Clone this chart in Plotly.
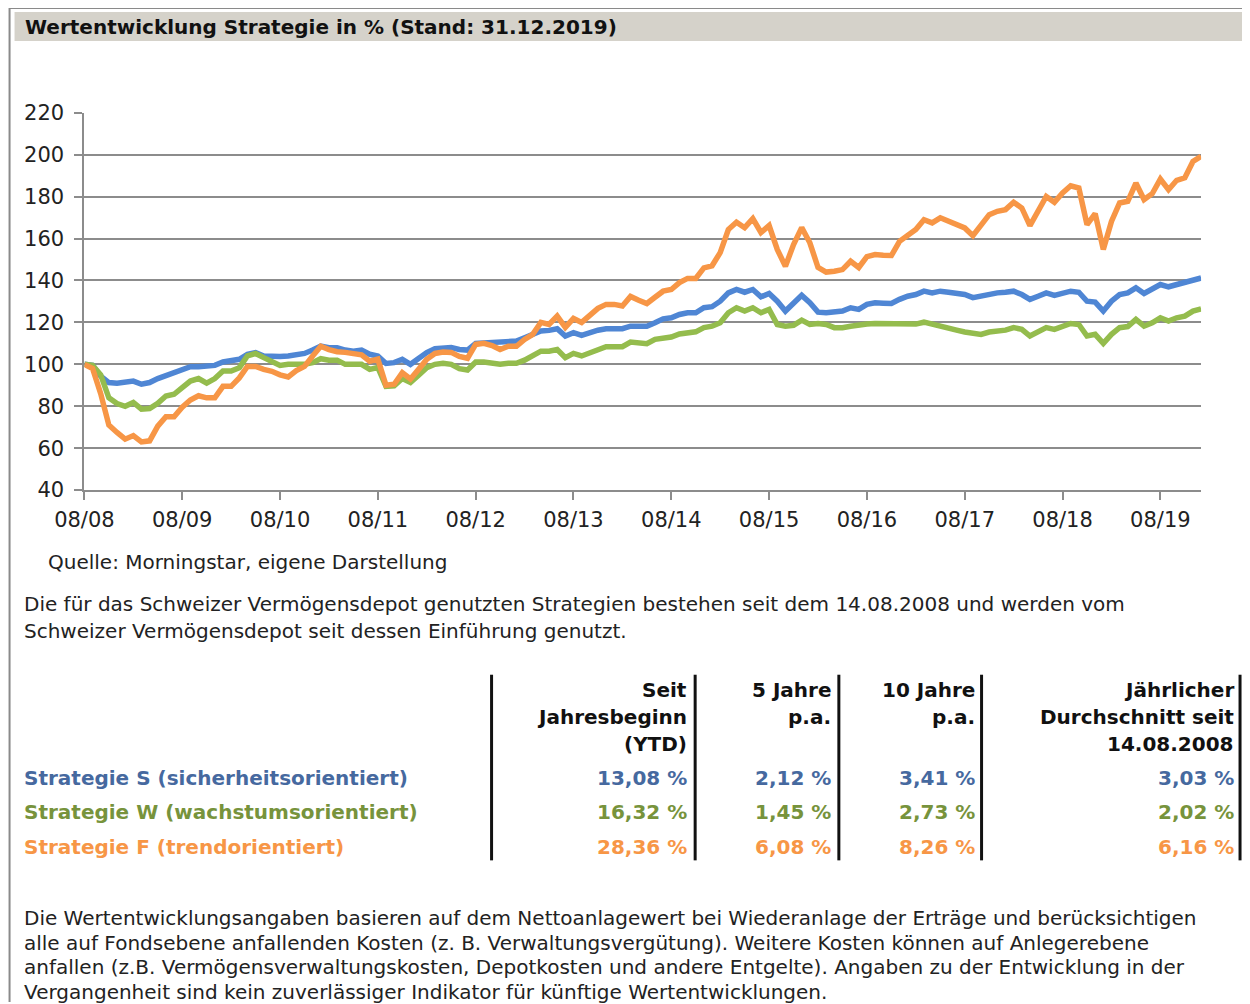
import plotly.graph_objects as go
import pandas as pd

W, H = 1250, 1004

# ---------------- data ----------------
dates = ["2008-08-14"] + [d.strftime("%Y-%m-%d") for d in
                          pd.date_range("2008-08-31", periods=137, freq=pd.offsets.MonthEnd())]
tick_labels = ["08/08", "08/09", "08/10", "08/11", "08/12", "08/13",
               "08/14", "08/15", "08/16", "08/17", "08/18", "08/19"]
y_ticks = [40, 60, 80, 100, 120, 140, 160, 180, 200, 220]

strategie_s = [
    100, 99.5, 94.4, 91.3, 91, 91.3, 92, 90.5, 91.3, 93.2, 94.8, 96,
    97.6, 98.9, 98.9, 99.2, 99.5, 101.1, 101.6, 102.4, 104.8, 105.6, 104, 103.7,
    103.7, 104, 104.8, 105.2, 106.8, 108.7, 107.9, 107.9, 106.8, 106.3, 106.8, 104.8,
    104, 100.4, 100.8, 102.4, 100, 102.7, 105.6, 107.5, 108, 108, 107.1, 106.8,
    110, 110.3, 110.3, 110.6, 111.1, 111.1, 112.7, 114.3, 115.9, 116.2, 117, 113.5,
    115.1, 113.8, 115.4, 116.3, 117, 117, 117, 118.2, 117.9, 118.2, 119.8, 121.7,
    122.2, 123.8, 124.6, 124.6, 127, 127.5, 130.1, 134.1, 135.7, 134.4, 135.7, 132.2,
    133.8, 130.1, 125.4, 129.4, 132.9, 129.4, 124.9, 124.6, 124.9, 125.4, 127, 126.2,
    128.6, 129.4, 129.2, 129, 131, 132.5, 133.3,
    134.9, 134.1, 134.9, 134.4, 134.1, 133.3, 131.8, 132.5, 133.8, 134.1, 134.4, 134.9,
    133.3, 131, 132.5, 134.1, 132.9, 134.1, 134.9, 134.4, 130.1, 129.7, 125.4, 130.1,
    133.3, 134.1, 136.5, 133.8, 135.7, 138.1, 137, 138.1, 138.6, 140.1, 141.2]

strategie_w = [
    100, 99.5, 95, 84, 81.3, 80, 81.8, 78.6, 78.9, 81.4, 84.9, 85.7,
    88.9, 92, 93.2, 91, 93.2, 96.8, 96.8, 98.4, 104, 105.2, 103.2, 101.6,
    99.5, 100, 100, 100, 100.8, 102.7, 102, 102, 100, 100, 100, 97.6,
    98.5, 89.5, 89.7, 93.2, 91.3, 94.8, 98.4, 100, 100.5, 100, 97.9, 97.3,
    101.1, 101.1, 100.8, 100, 100.5, 100.5, 102, 104.3, 106.3, 106.3, 107.1, 103.2,
    105.2, 104, 105.6, 107.1, 108.4, 108.4, 108.4, 110.6, 110, 109.8, 111.9, 112.5,
    113, 114.5, 115.1, 115.5, 117.5, 118.2, 119.8, 124.6, 127, 125.4, 127, 124.6,
    126.2, 119, 118.2, 118.6, 121.1, 119, 119.5, 119, 117.5, 117.5, 118.2, 119,
    119.2, 119.5, 119.5, 119.3, 119, 119, 119.2,
    120.1, 119, 118.2, 117, 116.3, 115.4, 114.8, 114.3, 115.4, 115.9, 116.3, 117.5,
    116.7, 113.5, 115.4, 117.5, 116.7, 118, 119.5, 119, 113.5, 114.3, 110, 114.3,
    117.5, 118, 121.4, 118.2, 119.8, 122.2, 120.6, 122.2, 123, 125.4, 126.5]

strategie_f = [
    100, 98, 86, 71, 67.5, 64.3, 66, 63, 63.5, 70.5, 75, 75,
    79.5, 83, 85, 84, 84, 89.5, 89.5, 93.5, 99, 99, 97.6, 96.7,
    95, 94, 97, 99, 104, 108.6, 107, 106, 105.7, 104.8, 104.5, 101.5,
    102.5, 90, 90.5, 96, 93, 97.6, 102.4, 105.2, 105.9, 105.7, 103.8, 102.9,
    109.5, 110, 109, 107.1, 108.6, 108.6, 111.9, 114.3, 120, 119, 123, 117.6,
    121.9, 120, 123.8, 126.7, 128.6, 128.6, 127.8, 132.4, 130.6, 129, 132, 134.9,
    135.7, 139, 141, 141, 146, 147, 153.3, 164.3, 167.8, 165.2, 169.5, 162.9,
    166.2, 154.8, 146.8, 157.1, 165.2, 158, 146.2, 144, 144.4, 145.2, 149.2, 146.2,
    151.4, 152.4, 152, 151.9, 158.7, 161.9, 164.3,
    169, 167.5, 169.9, 168.2, 166.7, 165.1, 161.4, 166.7, 171.4, 173, 173.8, 177.3,
    174.6, 166.2, 173, 180.1, 177.3, 181.8, 185.2, 184.1, 166.7, 171.9, 154.8, 168.2,
    177, 177.8, 186.5, 178.6, 181.4, 188.4, 183.3, 187.8, 189, 196.8, 199.2]

strategy_names = ["Strategie S (sicherheitsorientiert)",
                  "Strategie W (wachstumsorientiert)",
                  "Strategie F (trendorientiert)"]
col_headers = [["Seit", "Jahresbeginn", "(YTD)"],
               ["5 Jahre", "p.a."],
               ["10 Jahre", "p.a."],
               ["Jährlicher", "Durchschnitt seit", "14.08.2008"]]
ytd = ["13,08 %", "16,32 %", "28,36 %"]
five_years = ["2,12 %", "1,45 %", "6,08 %"]
ten_years = ["3,41 %", "2,73 %", "8,26 %"]
avg_since_start = ["3,03 %", "2,02 %", "6,16 %"]

title_text = "Wertentwicklung Strategie in % (Stand: 31.12.2019)"
source_text = "Quelle: Morningstar, eigene Darstellung"
intro_lines = ["Die für das Schweizer Vermögensdepot genutzten Strategien bestehen seit dem 14.08.2008 und werden vom",
               "Schweizer Vermögensdepot seit dessen Einführung genutzt."]
disclaimer_lines = [
    "Die Wertentwicklungsangaben basieren auf dem Nettoanlagewert bei Wiederanlage der Erträge und berücksichtigen",
    "alle auf Fondsebene anfallenden Kosten (z. B. Verwaltungsvergütung). Weitere Kosten können auf Anlegerebene",
    "anfallen (z.B. Vermögensverwaltungskosten, Depotkosten und andere Entgelte). Angaben zu der Entwicklung in der",
    "Vergangenheit sind kein zuverlässiger Indikator für künftige Wertentwicklungen."]

# ---------------- styles ----------------
line_colors = ["#4f86d4", "#94bc4d", "#f79646"]
text_colors = ["#46699f", "#77933c", "#f79646"]
FONT = "DejaVu Sans"
GRID = "#8c8c8c"

# placement helpers (target pixel positions -> paper fractions)
SC, OX, OY = 0.978, 33.5, 20.0


def px_x(p):
    return (p - OX) / SC / W


def px_y(p):
    return 1 - (p - OY) / SC / H


fig = go.Figure()
for series, col in zip([strategie_s, strategie_w, strategie_f], line_colors):
    fig.add_trace(go.Scatter(x=dates, y=series, mode="lines",
                             line=dict(color=col, width=5.5), showlegend=False))

fig.update_layout(
    width=W, height=H,
    margin=dict(l=0, r=0, t=0, b=0),
    paper_bgcolor="white", plot_bgcolor="white",
    showlegend=False,
    font=dict(family=FONT, color="#222222"),
    xaxis=dict(
        type="category", domain=[px_x(80), px_x(1199)], range=[0, len(dates) - 1],
        tickmode="array", tickvals=[dates[i] for i in range(0, 12 * len(tick_labels), 12)],
        ticktext=tick_labels, ticks="outside", ticklen=8, tickwidth=2, tickcolor=GRID,
        showline=True, linecolor=GRID, linewidth=2, showgrid=False, zeroline=False,
        tickfont=dict(family=FONT, size=21, color="#222222"), ticklabelstandoff=2,
    ),
    yaxis=dict(
        domain=[px_y(491), px_y(113)], range=[40, 220],
        tickmode="array", tickvals=y_ticks, ticks="outside", ticklen=8, tickwidth=2,
        tickcolor=GRID, showline=True, linecolor=GRID, linewidth=2,
        showgrid=False, zeroline=False,
        minor=dict(tickmode="array", tickvals=y_ticks[1:-1], showgrid=True,
                   gridcolor=GRID, gridwidth=2, ticks=""),
        tickfont=dict(family=FONT, size=21, color="#222222"), ticklabelstandoff=6,
    ),
)

shapes = []
# outer frame
shapes.append(dict(type="line", xref="paper", yref="paper", x0=px_x(5), x1=px_x(5),
                   y0=px_y(8), y1=px_y(1004), line=dict(color="#8a8a8a", width=2)))
shapes.append(dict(type="line", xref="paper", yref="paper", x0=px_x(5), x1=px_x(1248),
                   y0=px_y(8), y1=px_y(8), line=dict(color="#8a8a8a", width=2)))
shapes.append(dict(type="line", xref="paper", yref="paper", x0=px_x(1248), x1=px_x(1248),
                   y0=px_y(8), y1=px_y(1004), line=dict(color="#c8c8c8", width=2)))
# title bar
shapes.append(dict(type="rect", xref="paper", yref="paper", x0=px_x(10), x1=px_x(1241),
                   y0=px_y(12), y1=px_y(41), fillcolor="#d5d2ca", line=dict(width=0), layer="below"))
# table vertical rules
for xr in [488, 692, 836, 979, 1238]:
    shapes.append(dict(type="line", xref="paper", yref="paper", x0=px_x(xr), x1=px_x(xr),
                       y0=px_y(676), y1=px_y(862), line=dict(color="#111111", width=3)))
fig.update_layout(shapes=shapes)

ann = []


def text(x, y, s, size=20, color="#222222", anchor="left", bold=False):
    ann.append(dict(xref="paper", yref="paper", x=px_x(x), y=px_y(y),
                    text=("<b>%s</b>" % s) if bold else s, showarrow=False,
                    xanchor=anchor, yanchor="middle",
                    font=dict(family=FONT, size=size, color=color)))


text(18, 27, title_text, size=20, color="#111111", bold=True)
text(42, 563, source_text, size=20)
for k, ln in enumerate(intro_lines):
    text(17, 605 + 27 * k, ln, size=20)

col_right = [686, 830, 974, 1234]
for c, hdr in enumerate(col_headers):
    for k, ln in enumerate(hdr):
        text(col_right[c], 691 + 27 * k, ln, size=20, color="#111111", anchor="right", bold=True)

for r, name in enumerate(strategy_names):
    y = 779 + 35 * r
    text(17, y, name, size=20, color=text_colors[r], bold=True)
    for c, vals in enumerate([ytd, five_years, ten_years, avg_since_start]):
        text(col_right[c], y, vals[r], size=20, color=text_colors[r], anchor="right", bold=True)

for k, ln in enumerate(disclaimer_lines):
    text(17, 920 + 24.5 * k, ln, size=20)

fig.update_layout(annotations=ann)
fig.write_html("out.html")
